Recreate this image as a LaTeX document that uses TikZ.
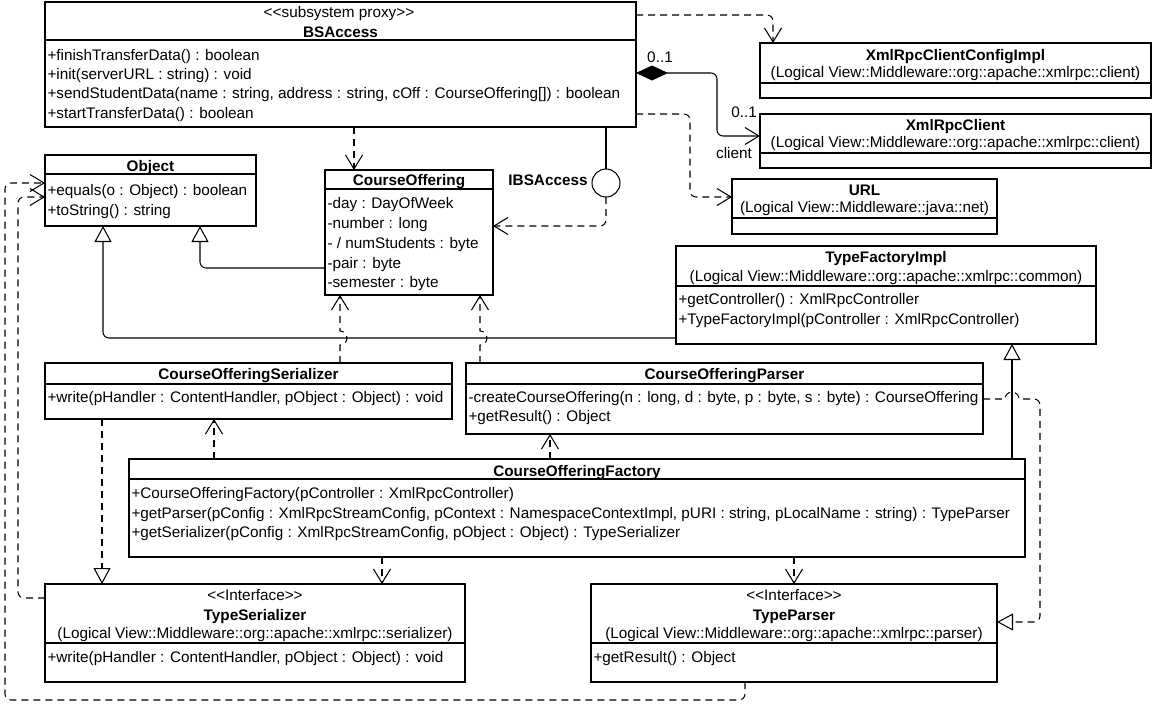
\documentclass[tikz,border=0pt]{standalone}
\usepackage{fontspec}
\setmainfont{Liberation Sans}[Ligatures=TeXOff]
\usetikzlibrary{arrows.meta}
\begin{document}
\begin{tikzpicture}[x=1pt,y=-1pt, line width=1.05pt,
  every node/.style={inner sep=0pt, outer sep=0pt, font=\fontsize{15.3}{18}\selectfont},
  cls/.style={draw, anchor=north west, line width=1.05pt},
  txt/.style={anchor=base west},
  mid/.style={anchor=base},
  bold/.style={anchor=base, font=\fontsize{15.3}{18}\selectfont\bfseries},
  dep/.style={dash pattern=on 7pt off 5pt, rounded corners=6pt, -{Straight Barb[length=14pt,width=17pt]}},
  gen/.style={rounded corners=6pt, -{Triangle[open,fill=white,length=16pt,width=17pt]}},
  real/.style={gen, dash pattern=on 7pt off 5pt},
  comp/.style={rounded corners=6pt, {Diamond[length=32pt,width=15pt]}-{Straight Barb[length=14pt,width=17pt]}},
]
\useasboundingbox (0,0) rectangle (1156,707);

% ---------- class boxes ----------
\node[cls, minimum width=591pt, minimum height=125pt] (bs) at (45,2) {};
\node[cls, minimum width=211pt, minimum height=71pt] (obj) at (45,155) {};
\node[cls, minimum width=168pt, minimum height=125pt] (co) at (325,170) {};
\node[cls, minimum width=391pt, minimum height=55pt] (cfg) at (760,43) {};
\node[cls, minimum width=391pt, minimum height=54pt] (cli) at (760,114) {};
\node[cls, minimum width=265pt, minimum height=55pt] (url) at (732,179) {};
\node[cls, minimum width=420pt, minimum height=98pt] (tfi) at (676,246) {};
\node[cls, minimum width=407pt, minimum height=56pt] (cos) at (45,363) {};
\node[cls, minimum width=517pt, minimum height=71pt] (cop) at (466,363) {};
\node[cls, minimum width=896pt, minimum height=98pt] (cof) at (129,459) {};
\node[cls, minimum width=420pt, minimum height=98pt] (ts) at (45,584) {};
\node[cls, minimum width=406pt, minimum height=98pt] (tp) at (591,584) {};

% ---------- compartment separators ----------
\draw (bs.west |- 0,40) -- (bs.east |- 0,40);
\draw (obj.west |- 0,174) -- (obj.east |- 0,174);
\draw (co.west |- 0,189) -- (co.east |- 0,189);
\draw (cfg.west |- 0,83) -- (cfg.east |- 0,83);
\draw (cli.west |- 0,153) -- (cli.east |- 0,153);
\draw (url.west |- 0,218) -- (url.east |- 0,218);
\draw (tfi.west |- 0,286) -- (tfi.east |- 0,286);
\draw (cos.west |- 0,384) -- (cos.east |- 0,384);
\draw (cop.west |- 0,384) -- (cop.east |- 0,384);
\draw (cof.west |- 0,479) -- (cof.east |- 0,479);
\draw (ts.west |- 0,643) -- (ts.east |- 0,643);
\draw (tp.west |- 0,643) -- (tp.east |- 0,643);

% ---------- texts ----------
\node[mid] (bsS) at (339,17) {<<subsystem proxy>>};
\node[bold] (bsN) at (340.5,37) {BSAccess};
\node[txt] (bs1) at (47.5,60) {+finishTransferData() : boolean};
\node[txt] (bs2) at (47.5,79) {+init(serverURL : string) : void};
\node[txt] (bs3) at (47.5,98) {+sendStudentData(name : string, address : string, cOff : CourseOffering[]) : boolean};
\node[txt] (bs4) at (47.5,118) {+startTransferData() : boolean};

\node[bold] (objN) at (150.5,171) {Object};
\node[txt] (obj1) at (47.5,195) {+equals(o : Object) : boolean};
\node[txt] (obj2) at (47.5,215) {+toString() : string};

\node[bold] (coN) at (409,185) {CourseOffering};
\node[txt] (co1) at (327.5,208) {-day : DayOfWeek};
\node[txt] (co2) at (327.5,228) {-number : long};
\node[txt] (co3) at (327.5,248) {- / numStudents : byte};
\node[txt] (co4) at (327.5,268) {-pair : byte};
\node[txt] (co5) at (327.5,287) {-semester : byte};

\node[bold] (ibsL) at (548,185) {IBSAccess};

\node[bold] (cfgN) at (955.5,60) {XmlRpcClientConfigImpl};
\node[mid] (cfgP) at (955.5,77) {(Logical View::Middleware::org::apache::xmlrpc::client)};
\node[bold] (cliN) at (955.5,130) {XmlRpcClient};
\node[mid] (cliP) at (955.5,147) {(Logical View::Middleware::org::apache::xmlrpc::client)};
\node[bold] (urlN) at (864.5,195) {URL};
\node[mid] (urlP) at (864.5,212) {(Logical View::Middleware::java::net)};

\node[bold] (tfiN) at (886,262) {TypeFactoryImpl};
\node[mid] (tfiP) at (886,281) {(Logical View::Middleware::org::apache::xmlrpc::common)};
\node[txt] (tfi1) at (678.5,304) {+getController() : XmlRpcController};
\node[txt] (tfi2) at (678.5,324) {+TypeFactoryImpl(pController : XmlRpcController)};

\node[bold] (cosN) at (248.5,379) {CourseOfferingSerializer};
\node[txt] (cos1) at (47.5,402) {+write(pHandler : ContentHandler, pObject : Object) : void};

\node[bold] (copN) at (724.5,379) {CourseOfferingParser};
\node[txt] (cop1) at (468.5,402) {-createCourseOffering(n : long, d : byte, p : byte, s : byte) : CourseOffering};
\node[txt] (cop2) at (468.5,421) {+getResult() : Object};

\node[bold] (cofN) at (577,476) {CourseOfferingFactory};
\node[txt] (cof1) at (131.5,498) {+CourseOfferingFactory(pController : XmlRpcController)};
\node[txt] (cof2) at (131.5,518) {+getParser(pConfig : XmlRpcStreamConfig, pContext : NamespaceContextImpl, pURI : string, pLocalName : string) : TypeParser};
\node[txt] (cof3) at (131.5,537) {+getSerializer(pConfig : XmlRpcStreamConfig, pObject : Object) : TypeSerializer};

\node[mid] (tsS) at (255,600) {<<Interface>>};
\node[bold] (tsN) at (255,620) {TypeSerializer};
\node[mid] (tsP) at (255,638) {(Logical View::Middleware::org::apache::xmlrpc::serializer)};
\node[txt] (ts1) at (47.5,662) {+write(pHandler : ContentHandler, pObject : Object) : void};

\node[mid] (tpS) at (794,600) {<<Interface>>};
\node[bold] (tpN) at (794,620) {TypeParser};
\node[mid] (tpP) at (794,638) {(Logical View::Middleware::org::apache::xmlrpc::parser)};
\node[txt] (tp1) at (593.5,662) {+getResult() : Object};

% ---------- lollipop interface ----------
\node[circle, draw, minimum size=28pt] (lol) at (606,183) {};
\draw (606,0 |- bs.south) -- (lol.north);

% ---------- multiplicities ----------
\node[mid] (m1) at (660,62) {0..1};
\node[mid] (m2) at (744,117) {0..1};
\node[mid] (rl) at (734,158) {client};

% ---------- connectors ----------
\draw[dep] (bs.east |- 0,15) -| (773,0 |- cfg.north);
\draw[comp] (bs.east |- 0,73) -| (717,104) |- (cli.west |- 0,136);
\draw[dep] (bs.east |- 0,114) -| (690,160) |- (url.west |- 0,197);
\draw[dep] (354,0 |- bs.south) -- (354,0 |- co.north);
\draw[dep] (lol.south) |- (co.east |- 0,226);

\draw[gen] (co.west |- 0,268) -| (200,0 |- obj.south);
\draw[gen] (tfi.west |- 0,338) -| (103,0 |- obj.south);

\draw[dep, sharp corners] (340,0 |- cos.north) -- (340,345) arc[start angle=90, end angle=-90, radius=7] -- (340,0 |- co.south);
\draw[dep, sharp corners] (480,0 |- cop.north) -- (480,345) arc[start angle=90, end angle=-90, radius=7] -- (480,0 |- co.south);

\draw[dep] (214,0 |- cof.north) -- (214,0 |- cos.south);
\draw[dep] (550,0 |- cof.north) -- (550,0 |- cop.south);
\draw[gen] (1012,0 |- cof.north) -- (1012,0 |- tfi.south);
\draw[real] (102,0 |- cos.south) -- (102,0 |- ts.north);
\draw[dep] (382,0 |- cof.south) -- (382,0 |- ts.north);
\draw[dep] (794,0 |- cof.south) -- (794,0 |- tp.north);

\draw[real, sharp corners] (cop.east |- 0,399) -- (1005,399) arc[start angle=180, end angle=360, radius=7] -- (1034,399) [rounded corners=6pt] -- (1040,399) -- (1040,622) -- (tp.east |- 0,622);

\draw[dep] (ts.west |- 0,598) -| (18,400) |- (obj.west |- 0,197);
\draw[dep] (745,0 |- tp.south) -- (745,700) -- (5,700) -- (5,183) -- (obj.west |- 0,183);
\end{tikzpicture}
\end{document}
